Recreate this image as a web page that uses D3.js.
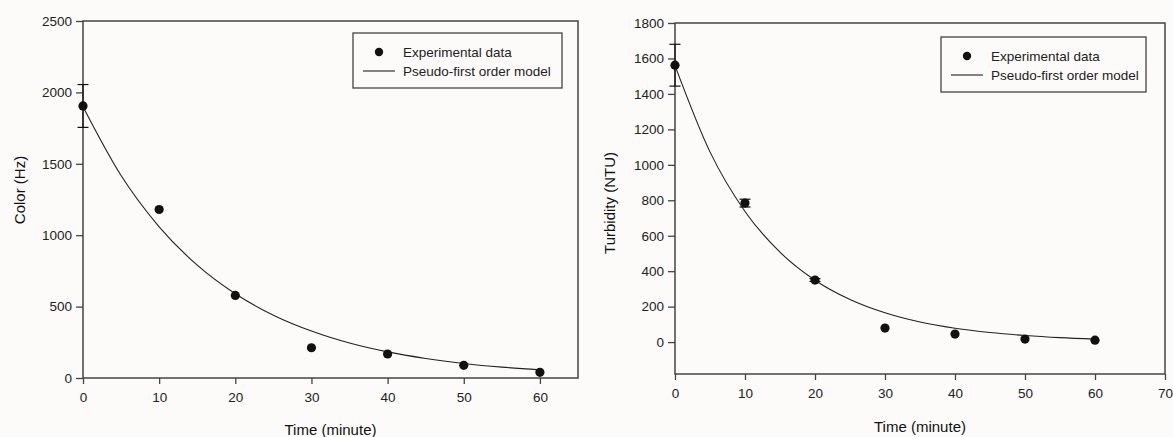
<!DOCTYPE html>
<html>
<head>
<meta charset="utf-8">
<script src="https://cdn.jsdelivr.net/npm/d3@7"></script>
<style>
  body { margin: 0; background: #fcfbf9; }
  svg { display: block; font-family: "Liberation Sans", Arial, sans-serif; }
</style>
</head>
<body>
<svg id="chart" width="1173" height="437"></svg>
<script>
const times = [0, 10, 20, 30, 40, 50, 60];
const colorValues = [1905, 1180, 578, 212, 168, 89, 40];
const colorErrors = [150, 0, 0, 0, 0, 0, 0];
const turbValues = [1562, 784, 350, 79, 45, 17, 11];
const turbErrors = [118, 22, 8, 0, 0, 0, 0];

// fitted model curve, sampled every 5 min
const modelTimes = [0, 5, 10, 15, 20, 25, 30, 35, 40, 45, 50, 55, 60];
const colorModel = [1900, 1418, 1059, 790, 590, 440, 329, 245, 183, 137, 102, 76, 57];
const turbModel = [1560, 1073, 737, 507, 349, 240, 165, 113, 78, 54, 37, 25, 17];

const colorTicksY = [0, 500, 1000, 1500, 2000, 2500];
const colorTicksX = [0, 10, 20, 30, 40, 50, 60];
const turbTicksY = [0, 200, 400, 600, 800, 1000, 1200, 1400, 1600, 1800];
const turbTicksX = [0, 10, 20, 30, 40, 50, 60, 70];

const legendLabels = ["Experimental data", "Pseudo-first order model"];

const svg = d3.select("#chart");
const frameColor = "#444";

function drawPanel(opt) {
  const x = d3.scaleLinear().domain(opt.xDomain).range([opt.left, opt.right]);
  const y = d3.scaleLinear().domain(opt.yDomain).range([opt.bottom, opt.top]);
  const g = svg.append("g");

  // frame
  g.append("rect")
    .attr("x", opt.left).attr("y", opt.top)
    .attr("width", opt.right - opt.left).attr("height", opt.bottom - opt.top)
    .attr("fill", "none").attr("stroke", frameColor).attr("stroke-width", 1.5);

  const xAxis = g.append("g")
    .attr("transform", `translate(0,${opt.bottom})`)
    .call(d3.axisBottom(x).tickValues(opt.xTicks).tickSize(6).tickPadding(8).tickFormat(d3.format("d")));
  const yAxis = g.append("g")
    .attr("transform", `translate(${opt.left},0)`)
    .call(d3.axisLeft(y).tickValues(opt.yTicks).tickSize(7).tickPadding(4).tickFormat(d3.format("d")));
  [xAxis, yAxis].forEach(a => {
    a.select(".domain").remove();
    a.selectAll("line").attr("stroke", frameColor).attr("stroke-width", 1.3);
    a.selectAll("text").attr("fill", "#222").style("font-size", "13.5px").style("font-family", "Liberation Sans, Arial, sans-serif");
  });

  // axis titles
  g.append("text")
    .attr("x", (opt.left + opt.right) / 2).attr("y", opt.xTitleY)
    .attr("text-anchor", "middle").attr("fill", "#111")
    .style("font-size", "15px").text("Time (minute)");
  g.append("text")
    .attr("transform", `translate(${opt.yTitleX},${opt.yTitleCy}) rotate(-90)`)
    .attr("text-anchor", "middle").attr("fill", "#111")
    .style("font-size", "15px").text(opt.yTitle);

  // model line
  const line = d3.line().x(d => x(d[0])).y(d => y(d[1])).curve(d3.curveMonotoneX);
  g.append("path")
    .datum(modelTimes.map((t, i) => [t, opt.model[i]]))
    .attr("d", line)
    .attr("fill", "none").attr("stroke", "#222").attr("stroke-width", 1.1);

  // error bars (only where visible)
  const pts = times.map((t, i) => ({t, v: opt.values[i], e: opt.errors[i]}));
  const eb = g.append("g").attr("stroke", "#111").attr("stroke-width", 1.2);
  pts.filter(d => d.e > 0).forEach(d => {
    const cx = x(d.t);
    eb.append("line").attr("x1", cx).attr("x2", cx).attr("y1", y(d.v + d.e)).attr("y2", y(d.v - d.e));
    [d.v + d.e, d.v - d.e].forEach(v => {
      eb.append("line").attr("x1", cx - 5.5).attr("x2", cx + 5.5).attr("y1", y(v)).attr("y2", y(v));
    });
  });

  // points
  g.append("g").selectAll("circle")
    .data(pts).join("circle")
    .attr("cx", d => x(d.t)).attr("cy", d => y(d.v))
    .attr("r", 4.6).attr("fill", "#111");

  // legend
  const lg = g.append("g").attr("transform", `translate(${opt.legend.x},${opt.legend.y})`);
  lg.append("rect").attr("width", opt.legend.w).attr("height", 55)
    .attr("fill", "#fcfbf9").attr("stroke", frameColor).attr("stroke-width", 1.3);
  lg.append("circle").attr("cx", 26).attr("cy", 19).attr("r", 4.2).attr("fill", "#111");
  lg.append("line").attr("x1", 10).attr("x2", 42).attr("y1", 38).attr("y2", 38)
    .attr("stroke", "#222").attr("stroke-width", 1.1);
  legendLabels.forEach((s, i) => {
    lg.append("text").attr("x", 50).attr("y", 19 + i * 19).attr("dy", "0.35em")
      .attr("fill", "#222").style("font-size", "13.5px").text(s);
  });
}

drawPanel({
  left: 83, right: 578, top: 21, bottom: 378,
  xDomain: [0, 65], yDomain: [0, 2500],
  xTicks: colorTicksX, yTicks: colorTicksY,
  values: colorValues, errors: colorErrors, model: colorModel,
  yTitle: "Color (Hz)", yTitleX: 25, yTitleCy: 190, xTitleY: 435,
  legend: {x: 353, y: 33, w: 209}
});

drawPanel({
  left: 675, right: 1165, top: 23, bottom: 374,
  xDomain: [0, 70], yDomain: [-180, 1800],
  xTicks: turbTicksX, yTicks: turbTicksY,
  values: turbValues, errors: turbErrors, model: turbModel,
  yTitle: "Turbidity (NTU)", yTitleX: 615, yTitleCy: 203, xTitleY: 432,
  legend: {x: 941, y: 37, w: 205}
});
</script>
</body>
</html>
